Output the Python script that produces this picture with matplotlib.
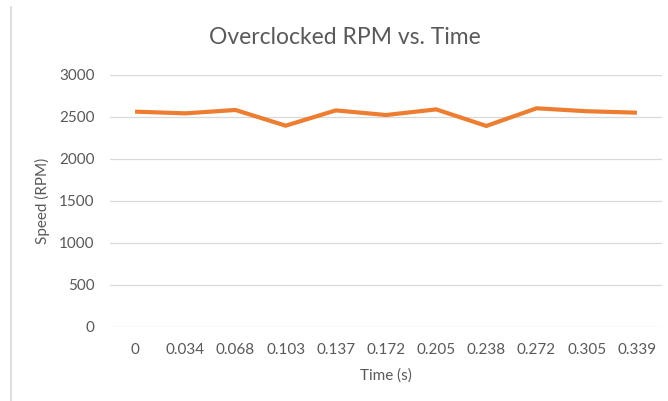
import matplotlib
matplotlib.use("Agg")
import matplotlib.pyplot as plt
from matplotlib.lines import Line2D

# Data
time_labels = ["0", "0.034", "0.068", "0.103", "0.137", "0.172", "0.205",
               "0.238", "0.272", "0.305", "0.339"]
speed_rpm = [2560, 2540, 2580, 2393, 2575, 2520, 2587, 2390, 2600, 2565, 2548]
y_ticks = [0, 500, 1000, 1500, 2000, 2500, 3000]

plt.rcParams['font.family'] = ['Lato', 'DejaVu Sans']
text_color = "#595959"
grid_color = "#d9d9d9"

W, H = 668, 401
fig = plt.figure(figsize=(W / 100, H / 100), dpi=100)
fig.patch.set_facecolor("white")

left, right = 110 / W, 662 / W
bottom, top = 1 - 326.7 / H, 1 - 74.7 / H
ax = fig.add_axes([left, bottom, right - left, top - bottom])

x = list(range(len(time_labels)))
ax.plot(x, speed_rpm, color="#ED7D31", linewidth=3.0, solid_joinstyle="miter",
        solid_capstyle="butt", zorder=3)

ax.set_xlim(-0.5, len(time_labels) - 0.5)
ax.set_ylim(0, 3000)
ax.set_yticks(y_ticks)
ax.set_yticklabels([str(v) for v in y_ticks])
ax.set_xticks(x)
ax.set_xticklabels(time_labels)

ax.yaxis.grid(True, color=grid_color, linewidth=0.9)
ax.set_axisbelow(True)
for s in ax.spines.values():
    s.set_visible(False)
ax.tick_params(axis="both", length=0, colors=text_color, labelsize=11)
ax.tick_params(axis="y", pad=11)
ax.tick_params(axis="x", pad=12)

ax.set_xlabel("Time (s)", color=text_color, fontsize=11, labelpad=8)
ax.set_ylabel("Speed (RPM)", color=text_color, fontsize=11, labelpad=7)

fig.text(345 / W, 1 - 38 / H, "Overclocked RPM vs. Time", ha="center", va="center",
         color=text_color, fontsize=16.5)

# chart border left edge
fig.add_artist(Line2D([10.5 / W, 10.5 / W], [0, 1 - 7 / H], color=grid_color,
                      linewidth=1.2, transform=fig.transFigure))

fig.savefig("out.png", dpi=100, facecolor="white")
